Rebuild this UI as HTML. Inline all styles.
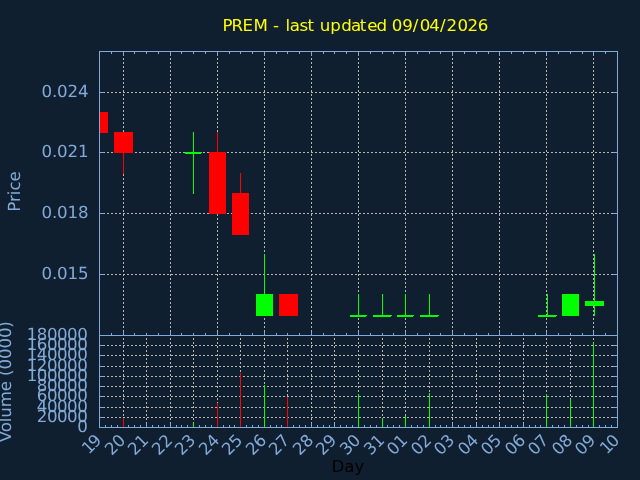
<!DOCTYPE html>
<html><head><meta charset="utf-8"><title>PREM chart</title>
<style>html,body{margin:0;padding:0;background:#101f30;width:640px;height:480px;overflow:hidden}svg{display:block}#w{will-change:transform;width:640px;height:480px}</style>
</head><body><div id="w">
<svg width="640" height="480" viewBox="0 0 640 480" shape-rendering="crispEdges">
<rect width="640" height="480" fill="#101f30"/>
<path fill="#bab7b1" d="M99 92h2v1h-2zM103 92h2v1h-2zM107 92h2v1h-2zM111 92h2v1h-2zM115 92h2v1h-2zM119 92h2v1h-2zM123 92h2v1h-2zM127 92h2v1h-2zM131 92h2v1h-2zM135 92h2v1h-2zM139 92h2v1h-2zM143 92h2v1h-2zM147 92h2v1h-2zM151 92h2v1h-2zM155 92h2v1h-2zM159 92h2v1h-2zM163 92h2v1h-2zM167 92h2v1h-2zM171 92h2v1h-2zM175 92h2v1h-2zM179 92h2v1h-2zM183 92h2v1h-2zM187 92h2v1h-2zM191 92h2v1h-2zM195 92h2v1h-2zM199 92h2v1h-2zM203 92h2v1h-2zM207 92h2v1h-2zM211 92h2v1h-2zM215 92h2v1h-2zM219 92h2v1h-2zM223 92h2v1h-2zM227 92h2v1h-2zM231 92h2v1h-2zM235 92h2v1h-2zM239 92h2v1h-2zM243 92h2v1h-2zM247 92h2v1h-2zM251 92h2v1h-2zM255 92h2v1h-2zM259 92h2v1h-2zM263 92h2v1h-2zM267 92h2v1h-2zM271 92h2v1h-2zM275 92h2v1h-2zM279 92h2v1h-2zM283 92h2v1h-2zM287 92h2v1h-2zM291 92h2v1h-2zM295 92h2v1h-2zM299 92h2v1h-2zM303 92h2v1h-2zM307 92h2v1h-2zM311 92h2v1h-2zM315 92h2v1h-2zM319 92h2v1h-2zM323 92h2v1h-2zM327 92h2v1h-2zM331 92h2v1h-2zM335 92h2v1h-2zM339 92h2v1h-2zM343 92h2v1h-2zM347 92h2v1h-2zM351 92h2v1h-2zM355 92h2v1h-2zM359 92h2v1h-2zM363 92h2v1h-2zM367 92h2v1h-2zM371 92h2v1h-2zM375 92h2v1h-2zM379 92h2v1h-2zM383 92h2v1h-2zM387 92h2v1h-2zM391 92h2v1h-2zM395 92h2v1h-2zM399 92h2v1h-2zM403 92h2v1h-2zM407 92h2v1h-2zM411 92h2v1h-2zM415 92h2v1h-2zM419 92h2v1h-2zM423 92h2v1h-2zM427 92h2v1h-2zM431 92h2v1h-2zM435 92h2v1h-2zM439 92h2v1h-2zM443 92h2v1h-2zM447 92h2v1h-2zM451 92h2v1h-2zM455 92h2v1h-2zM459 92h2v1h-2zM463 92h2v1h-2zM467 92h2v1h-2zM471 92h2v1h-2zM475 92h2v1h-2zM479 92h2v1h-2zM483 92h2v1h-2zM487 92h2v1h-2zM491 92h2v1h-2zM495 92h2v1h-2zM499 92h2v1h-2zM503 92h2v1h-2zM507 92h2v1h-2zM511 92h2v1h-2zM515 92h2v1h-2zM519 92h2v1h-2zM523 92h2v1h-2zM527 92h2v1h-2zM531 92h2v1h-2zM535 92h2v1h-2zM539 92h2v1h-2zM543 92h2v1h-2zM547 92h2v1h-2zM551 92h2v1h-2zM555 92h2v1h-2zM559 92h2v1h-2zM563 92h2v1h-2zM567 92h2v1h-2zM571 92h2v1h-2zM575 92h2v1h-2zM579 92h2v1h-2zM583 92h2v1h-2zM587 92h2v1h-2zM591 92h2v1h-2zM595 92h2v1h-2zM599 92h2v1h-2zM603 92h2v1h-2zM607 92h2v1h-2zM611 92h2v1h-2zM615 92h2v1h-2zM99 152h2v1h-2zM103 152h2v1h-2zM107 152h2v1h-2zM111 152h2v1h-2zM115 152h2v1h-2zM119 152h2v1h-2zM123 152h2v1h-2zM127 152h2v1h-2zM131 152h2v1h-2zM135 152h2v1h-2zM139 152h2v1h-2zM143 152h2v1h-2zM147 152h2v1h-2zM151 152h2v1h-2zM155 152h2v1h-2zM159 152h2v1h-2zM163 152h2v1h-2zM167 152h2v1h-2zM171 152h2v1h-2zM175 152h2v1h-2zM179 152h2v1h-2zM183 152h2v1h-2zM187 152h2v1h-2zM191 152h2v1h-2zM195 152h2v1h-2zM199 152h2v1h-2zM203 152h2v1h-2zM207 152h2v1h-2zM211 152h2v1h-2zM215 152h2v1h-2zM219 152h2v1h-2zM223 152h2v1h-2zM227 152h2v1h-2zM231 152h2v1h-2zM235 152h2v1h-2zM239 152h2v1h-2zM243 152h2v1h-2zM247 152h2v1h-2zM251 152h2v1h-2zM255 152h2v1h-2zM259 152h2v1h-2zM263 152h2v1h-2zM267 152h2v1h-2zM271 152h2v1h-2zM275 152h2v1h-2zM279 152h2v1h-2zM283 152h2v1h-2zM287 152h2v1h-2zM291 152h2v1h-2zM295 152h2v1h-2zM299 152h2v1h-2zM303 152h2v1h-2zM307 152h2v1h-2zM311 152h2v1h-2zM315 152h2v1h-2zM319 152h2v1h-2zM323 152h2v1h-2zM327 152h2v1h-2zM331 152h2v1h-2zM335 152h2v1h-2zM339 152h2v1h-2zM343 152h2v1h-2zM347 152h2v1h-2zM351 152h2v1h-2zM355 152h2v1h-2zM359 152h2v1h-2zM363 152h2v1h-2zM367 152h2v1h-2zM371 152h2v1h-2zM375 152h2v1h-2zM379 152h2v1h-2zM383 152h2v1h-2zM387 152h2v1h-2zM391 152h2v1h-2zM395 152h2v1h-2zM399 152h2v1h-2zM403 152h2v1h-2zM407 152h2v1h-2zM411 152h2v1h-2zM415 152h2v1h-2zM419 152h2v1h-2zM423 152h2v1h-2zM427 152h2v1h-2zM431 152h2v1h-2zM435 152h2v1h-2zM439 152h2v1h-2zM443 152h2v1h-2zM447 152h2v1h-2zM451 152h2v1h-2zM455 152h2v1h-2zM459 152h2v1h-2zM463 152h2v1h-2zM467 152h2v1h-2zM471 152h2v1h-2zM475 152h2v1h-2zM479 152h2v1h-2zM483 152h2v1h-2zM487 152h2v1h-2zM491 152h2v1h-2zM495 152h2v1h-2zM499 152h2v1h-2zM503 152h2v1h-2zM507 152h2v1h-2zM511 152h2v1h-2zM515 152h2v1h-2zM519 152h2v1h-2zM523 152h2v1h-2zM527 152h2v1h-2zM531 152h2v1h-2zM535 152h2v1h-2zM539 152h2v1h-2zM543 152h2v1h-2zM547 152h2v1h-2zM551 152h2v1h-2zM555 152h2v1h-2zM559 152h2v1h-2zM563 152h2v1h-2zM567 152h2v1h-2zM571 152h2v1h-2zM575 152h2v1h-2zM579 152h2v1h-2zM583 152h2v1h-2zM587 152h2v1h-2zM591 152h2v1h-2zM595 152h2v1h-2zM599 152h2v1h-2zM603 152h2v1h-2zM607 152h2v1h-2zM611 152h2v1h-2zM615 152h2v1h-2zM99 213h2v1h-2zM103 213h2v1h-2zM107 213h2v1h-2zM111 213h2v1h-2zM115 213h2v1h-2zM119 213h2v1h-2zM123 213h2v1h-2zM127 213h2v1h-2zM131 213h2v1h-2zM135 213h2v1h-2zM139 213h2v1h-2zM143 213h2v1h-2zM147 213h2v1h-2zM151 213h2v1h-2zM155 213h2v1h-2zM159 213h2v1h-2zM163 213h2v1h-2zM167 213h2v1h-2zM171 213h2v1h-2zM175 213h2v1h-2zM179 213h2v1h-2zM183 213h2v1h-2zM187 213h2v1h-2zM191 213h2v1h-2zM195 213h2v1h-2zM199 213h2v1h-2zM203 213h2v1h-2zM207 213h2v1h-2zM211 213h2v1h-2zM215 213h2v1h-2zM219 213h2v1h-2zM223 213h2v1h-2zM227 213h2v1h-2zM231 213h2v1h-2zM235 213h2v1h-2zM239 213h2v1h-2zM243 213h2v1h-2zM247 213h2v1h-2zM251 213h2v1h-2zM255 213h2v1h-2zM259 213h2v1h-2zM263 213h2v1h-2zM267 213h2v1h-2zM271 213h2v1h-2zM275 213h2v1h-2zM279 213h2v1h-2zM283 213h2v1h-2zM287 213h2v1h-2zM291 213h2v1h-2zM295 213h2v1h-2zM299 213h2v1h-2zM303 213h2v1h-2zM307 213h2v1h-2zM311 213h2v1h-2zM315 213h2v1h-2zM319 213h2v1h-2zM323 213h2v1h-2zM327 213h2v1h-2zM331 213h2v1h-2zM335 213h2v1h-2zM339 213h2v1h-2zM343 213h2v1h-2zM347 213h2v1h-2zM351 213h2v1h-2zM355 213h2v1h-2zM359 213h2v1h-2zM363 213h2v1h-2zM367 213h2v1h-2zM371 213h2v1h-2zM375 213h2v1h-2zM379 213h2v1h-2zM383 213h2v1h-2zM387 213h2v1h-2zM391 213h2v1h-2zM395 213h2v1h-2zM399 213h2v1h-2zM403 213h2v1h-2zM407 213h2v1h-2zM411 213h2v1h-2zM415 213h2v1h-2zM419 213h2v1h-2zM423 213h2v1h-2zM427 213h2v1h-2zM431 213h2v1h-2zM435 213h2v1h-2zM439 213h2v1h-2zM443 213h2v1h-2zM447 213h2v1h-2zM451 213h2v1h-2zM455 213h2v1h-2zM459 213h2v1h-2zM463 213h2v1h-2zM467 213h2v1h-2zM471 213h2v1h-2zM475 213h2v1h-2zM479 213h2v1h-2zM483 213h2v1h-2zM487 213h2v1h-2zM491 213h2v1h-2zM495 213h2v1h-2zM499 213h2v1h-2zM503 213h2v1h-2zM507 213h2v1h-2zM511 213h2v1h-2zM515 213h2v1h-2zM519 213h2v1h-2zM523 213h2v1h-2zM527 213h2v1h-2zM531 213h2v1h-2zM535 213h2v1h-2zM539 213h2v1h-2zM543 213h2v1h-2zM547 213h2v1h-2zM551 213h2v1h-2zM555 213h2v1h-2zM559 213h2v1h-2zM563 213h2v1h-2zM567 213h2v1h-2zM571 213h2v1h-2zM575 213h2v1h-2zM579 213h2v1h-2zM583 213h2v1h-2zM587 213h2v1h-2zM591 213h2v1h-2zM595 213h2v1h-2zM599 213h2v1h-2zM603 213h2v1h-2zM607 213h2v1h-2zM611 213h2v1h-2zM615 213h2v1h-2zM99 274h2v1h-2zM103 274h2v1h-2zM107 274h2v1h-2zM111 274h2v1h-2zM115 274h2v1h-2zM119 274h2v1h-2zM123 274h2v1h-2zM127 274h2v1h-2zM131 274h2v1h-2zM135 274h2v1h-2zM139 274h2v1h-2zM143 274h2v1h-2zM147 274h2v1h-2zM151 274h2v1h-2zM155 274h2v1h-2zM159 274h2v1h-2zM163 274h2v1h-2zM167 274h2v1h-2zM171 274h2v1h-2zM175 274h2v1h-2zM179 274h2v1h-2zM183 274h2v1h-2zM187 274h2v1h-2zM191 274h2v1h-2zM195 274h2v1h-2zM199 274h2v1h-2zM203 274h2v1h-2zM207 274h2v1h-2zM211 274h2v1h-2zM215 274h2v1h-2zM219 274h2v1h-2zM223 274h2v1h-2zM227 274h2v1h-2zM231 274h2v1h-2zM235 274h2v1h-2zM239 274h2v1h-2zM243 274h2v1h-2zM247 274h2v1h-2zM251 274h2v1h-2zM255 274h2v1h-2zM259 274h2v1h-2zM263 274h2v1h-2zM267 274h2v1h-2zM271 274h2v1h-2zM275 274h2v1h-2zM279 274h2v1h-2zM283 274h2v1h-2zM287 274h2v1h-2zM291 274h2v1h-2zM295 274h2v1h-2zM299 274h2v1h-2zM303 274h2v1h-2zM307 274h2v1h-2zM311 274h2v1h-2zM315 274h2v1h-2zM319 274h2v1h-2zM323 274h2v1h-2zM327 274h2v1h-2zM331 274h2v1h-2zM335 274h2v1h-2zM339 274h2v1h-2zM343 274h2v1h-2zM347 274h2v1h-2zM351 274h2v1h-2zM355 274h2v1h-2zM359 274h2v1h-2zM363 274h2v1h-2zM367 274h2v1h-2zM371 274h2v1h-2zM375 274h2v1h-2zM379 274h2v1h-2zM383 274h2v1h-2zM387 274h2v1h-2zM391 274h2v1h-2zM395 274h2v1h-2zM399 274h2v1h-2zM403 274h2v1h-2zM407 274h2v1h-2zM411 274h2v1h-2zM415 274h2v1h-2zM419 274h2v1h-2zM423 274h2v1h-2zM427 274h2v1h-2zM431 274h2v1h-2zM435 274h2v1h-2zM439 274h2v1h-2zM443 274h2v1h-2zM447 274h2v1h-2zM451 274h2v1h-2zM455 274h2v1h-2zM459 274h2v1h-2zM463 274h2v1h-2zM467 274h2v1h-2zM471 274h2v1h-2zM475 274h2v1h-2zM479 274h2v1h-2zM483 274h2v1h-2zM487 274h2v1h-2zM491 274h2v1h-2zM495 274h2v1h-2zM499 274h2v1h-2zM503 274h2v1h-2zM507 274h2v1h-2zM511 274h2v1h-2zM515 274h2v1h-2zM519 274h2v1h-2zM523 274h2v1h-2zM527 274h2v1h-2zM531 274h2v1h-2zM535 274h2v1h-2zM539 274h2v1h-2zM543 274h2v1h-2zM547 274h2v1h-2zM551 274h2v1h-2zM555 274h2v1h-2zM559 274h2v1h-2zM563 274h2v1h-2zM567 274h2v1h-2zM571 274h2v1h-2zM575 274h2v1h-2zM579 274h2v1h-2zM583 274h2v1h-2zM587 274h2v1h-2zM591 274h2v1h-2zM595 274h2v1h-2zM599 274h2v1h-2zM603 274h2v1h-2zM607 274h2v1h-2zM611 274h2v1h-2zM615 274h2v1h-2zM123 334h1v2h-1zM123 330h1v2h-1zM123 326h1v2h-1zM123 322h1v2h-1zM123 318h1v2h-1zM123 314h1v2h-1zM123 310h1v2h-1zM123 306h1v2h-1zM123 302h1v2h-1zM123 298h1v2h-1zM123 294h1v2h-1zM123 290h1v2h-1zM123 286h1v2h-1zM123 282h1v2h-1zM123 278h1v2h-1zM123 274h1v2h-1zM123 270h1v2h-1zM123 266h1v2h-1zM123 262h1v2h-1zM123 258h1v2h-1zM123 254h1v2h-1zM123 250h1v2h-1zM123 246h1v2h-1zM123 242h1v2h-1zM123 238h1v2h-1zM123 234h1v2h-1zM123 230h1v2h-1zM123 226h1v2h-1zM123 222h1v2h-1zM123 218h1v2h-1zM123 214h1v2h-1zM123 210h1v2h-1zM123 206h1v2h-1zM123 202h1v2h-1zM123 198h1v2h-1zM123 194h1v2h-1zM123 190h1v2h-1zM123 186h1v2h-1zM123 182h1v2h-1zM123 178h1v2h-1zM123 174h1v2h-1zM123 170h1v2h-1zM123 166h1v2h-1zM123 162h1v2h-1zM123 158h1v2h-1zM123 154h1v2h-1zM123 150h1v2h-1zM123 146h1v2h-1zM123 142h1v2h-1zM123 138h1v2h-1zM123 134h1v2h-1zM123 130h1v2h-1zM123 126h1v2h-1zM123 122h1v2h-1zM123 118h1v2h-1zM123 114h1v2h-1zM123 110h1v2h-1zM123 106h1v2h-1zM123 102h1v2h-1zM123 98h1v2h-1zM123 94h1v2h-1zM123 90h1v2h-1zM123 86h1v2h-1zM123 82h1v2h-1zM123 78h1v2h-1zM123 74h1v2h-1zM123 70h1v2h-1zM123 66h1v2h-1zM123 62h1v2h-1zM123 58h1v2h-1zM123 54h1v2h-1zM170 334h1v2h-1zM170 330h1v2h-1zM170 326h1v2h-1zM170 322h1v2h-1zM170 318h1v2h-1zM170 314h1v2h-1zM170 310h1v2h-1zM170 306h1v2h-1zM170 302h1v2h-1zM170 298h1v2h-1zM170 294h1v2h-1zM170 290h1v2h-1zM170 286h1v2h-1zM170 282h1v2h-1zM170 278h1v2h-1zM170 274h1v2h-1zM170 270h1v2h-1zM170 266h1v2h-1zM170 262h1v2h-1zM170 258h1v2h-1zM170 254h1v2h-1zM170 250h1v2h-1zM170 246h1v2h-1zM170 242h1v2h-1zM170 238h1v2h-1zM170 234h1v2h-1zM170 230h1v2h-1zM170 226h1v2h-1zM170 222h1v2h-1zM170 218h1v2h-1zM170 214h1v2h-1zM170 210h1v2h-1zM170 206h1v2h-1zM170 202h1v2h-1zM170 198h1v2h-1zM170 194h1v2h-1zM170 190h1v2h-1zM170 186h1v2h-1zM170 182h1v2h-1zM170 178h1v2h-1zM170 174h1v2h-1zM170 170h1v2h-1zM170 166h1v2h-1zM170 162h1v2h-1zM170 158h1v2h-1zM170 154h1v2h-1zM170 150h1v2h-1zM170 146h1v2h-1zM170 142h1v2h-1zM170 138h1v2h-1zM170 134h1v2h-1zM170 130h1v2h-1zM170 126h1v2h-1zM170 122h1v2h-1zM170 118h1v2h-1zM170 114h1v2h-1zM170 110h1v2h-1zM170 106h1v2h-1zM170 102h1v2h-1zM170 98h1v2h-1zM170 94h1v2h-1zM170 90h1v2h-1zM170 86h1v2h-1zM170 82h1v2h-1zM170 78h1v2h-1zM170 74h1v2h-1zM170 70h1v2h-1zM170 66h1v2h-1zM170 62h1v2h-1zM170 58h1v2h-1zM170 54h1v2h-1zM217 334h1v2h-1zM217 330h1v2h-1zM217 326h1v2h-1zM217 322h1v2h-1zM217 318h1v2h-1zM217 314h1v2h-1zM217 310h1v2h-1zM217 306h1v2h-1zM217 302h1v2h-1zM217 298h1v2h-1zM217 294h1v2h-1zM217 290h1v2h-1zM217 286h1v2h-1zM217 282h1v2h-1zM217 278h1v2h-1zM217 274h1v2h-1zM217 270h1v2h-1zM217 266h1v2h-1zM217 262h1v2h-1zM217 258h1v2h-1zM217 254h1v2h-1zM217 250h1v2h-1zM217 246h1v2h-1zM217 242h1v2h-1zM217 238h1v2h-1zM217 234h1v2h-1zM217 230h1v2h-1zM217 226h1v2h-1zM217 222h1v2h-1zM217 218h1v2h-1zM217 214h1v2h-1zM217 210h1v2h-1zM217 206h1v2h-1zM217 202h1v2h-1zM217 198h1v2h-1zM217 194h1v2h-1zM217 190h1v2h-1zM217 186h1v2h-1zM217 182h1v2h-1zM217 178h1v2h-1zM217 174h1v2h-1zM217 170h1v2h-1zM217 166h1v2h-1zM217 162h1v2h-1zM217 158h1v2h-1zM217 154h1v2h-1zM217 150h1v2h-1zM217 146h1v2h-1zM217 142h1v2h-1zM217 138h1v2h-1zM217 134h1v2h-1zM217 130h1v2h-1zM217 126h1v2h-1zM217 122h1v2h-1zM217 118h1v2h-1zM217 114h1v2h-1zM217 110h1v2h-1zM217 106h1v2h-1zM217 102h1v2h-1zM217 98h1v2h-1zM217 94h1v2h-1zM217 90h1v2h-1zM217 86h1v2h-1zM217 82h1v2h-1zM217 78h1v2h-1zM217 74h1v2h-1zM217 70h1v2h-1zM217 66h1v2h-1zM217 62h1v2h-1zM217 58h1v2h-1zM217 54h1v2h-1zM264 334h1v2h-1zM264 330h1v2h-1zM264 326h1v2h-1zM264 322h1v2h-1zM264 318h1v2h-1zM264 314h1v2h-1zM264 310h1v2h-1zM264 306h1v2h-1zM264 302h1v2h-1zM264 298h1v2h-1zM264 294h1v2h-1zM264 290h1v2h-1zM264 286h1v2h-1zM264 282h1v2h-1zM264 278h1v2h-1zM264 274h1v2h-1zM264 270h1v2h-1zM264 266h1v2h-1zM264 262h1v2h-1zM264 258h1v2h-1zM264 254h1v2h-1zM264 250h1v2h-1zM264 246h1v2h-1zM264 242h1v2h-1zM264 238h1v2h-1zM264 234h1v2h-1zM264 230h1v2h-1zM264 226h1v2h-1zM264 222h1v2h-1zM264 218h1v2h-1zM264 214h1v2h-1zM264 210h1v2h-1zM264 206h1v2h-1zM264 202h1v2h-1zM264 198h1v2h-1zM264 194h1v2h-1zM264 190h1v2h-1zM264 186h1v2h-1zM264 182h1v2h-1zM264 178h1v2h-1zM264 174h1v2h-1zM264 170h1v2h-1zM264 166h1v2h-1zM264 162h1v2h-1zM264 158h1v2h-1zM264 154h1v2h-1zM264 150h1v2h-1zM264 146h1v2h-1zM264 142h1v2h-1zM264 138h1v2h-1zM264 134h1v2h-1zM264 130h1v2h-1zM264 126h1v2h-1zM264 122h1v2h-1zM264 118h1v2h-1zM264 114h1v2h-1zM264 110h1v2h-1zM264 106h1v2h-1zM264 102h1v2h-1zM264 98h1v2h-1zM264 94h1v2h-1zM264 90h1v2h-1zM264 86h1v2h-1zM264 82h1v2h-1zM264 78h1v2h-1zM264 74h1v2h-1zM264 70h1v2h-1zM264 66h1v2h-1zM264 62h1v2h-1zM264 58h1v2h-1zM264 54h1v2h-1zM311 334h1v2h-1zM311 330h1v2h-1zM311 326h1v2h-1zM311 322h1v2h-1zM311 318h1v2h-1zM311 314h1v2h-1zM311 310h1v2h-1zM311 306h1v2h-1zM311 302h1v2h-1zM311 298h1v2h-1zM311 294h1v2h-1zM311 290h1v2h-1zM311 286h1v2h-1zM311 282h1v2h-1zM311 278h1v2h-1zM311 274h1v2h-1zM311 270h1v2h-1zM311 266h1v2h-1zM311 262h1v2h-1zM311 258h1v2h-1zM311 254h1v2h-1zM311 250h1v2h-1zM311 246h1v2h-1zM311 242h1v2h-1zM311 238h1v2h-1zM311 234h1v2h-1zM311 230h1v2h-1zM311 226h1v2h-1zM311 222h1v2h-1zM311 218h1v2h-1zM311 214h1v2h-1zM311 210h1v2h-1zM311 206h1v2h-1zM311 202h1v2h-1zM311 198h1v2h-1zM311 194h1v2h-1zM311 190h1v2h-1zM311 186h1v2h-1zM311 182h1v2h-1zM311 178h1v2h-1zM311 174h1v2h-1zM311 170h1v2h-1zM311 166h1v2h-1zM311 162h1v2h-1zM311 158h1v2h-1zM311 154h1v2h-1zM311 150h1v2h-1zM311 146h1v2h-1zM311 142h1v2h-1zM311 138h1v2h-1zM311 134h1v2h-1zM311 130h1v2h-1zM311 126h1v2h-1zM311 122h1v2h-1zM311 118h1v2h-1zM311 114h1v2h-1zM311 110h1v2h-1zM311 106h1v2h-1zM311 102h1v2h-1zM311 98h1v2h-1zM311 94h1v2h-1zM311 90h1v2h-1zM311 86h1v2h-1zM311 82h1v2h-1zM311 78h1v2h-1zM311 74h1v2h-1zM311 70h1v2h-1zM311 66h1v2h-1zM311 62h1v2h-1zM311 58h1v2h-1zM311 54h1v2h-1zM358 334h1v2h-1zM358 330h1v2h-1zM358 326h1v2h-1zM358 322h1v2h-1zM358 318h1v2h-1zM358 314h1v2h-1zM358 310h1v2h-1zM358 306h1v2h-1zM358 302h1v2h-1zM358 298h1v2h-1zM358 294h1v2h-1zM358 290h1v2h-1zM358 286h1v2h-1zM358 282h1v2h-1zM358 278h1v2h-1zM358 274h1v2h-1zM358 270h1v2h-1zM358 266h1v2h-1zM358 262h1v2h-1zM358 258h1v2h-1zM358 254h1v2h-1zM358 250h1v2h-1zM358 246h1v2h-1zM358 242h1v2h-1zM358 238h1v2h-1zM358 234h1v2h-1zM358 230h1v2h-1zM358 226h1v2h-1zM358 222h1v2h-1zM358 218h1v2h-1zM358 214h1v2h-1zM358 210h1v2h-1zM358 206h1v2h-1zM358 202h1v2h-1zM358 198h1v2h-1zM358 194h1v2h-1zM358 190h1v2h-1zM358 186h1v2h-1zM358 182h1v2h-1zM358 178h1v2h-1zM358 174h1v2h-1zM358 170h1v2h-1zM358 166h1v2h-1zM358 162h1v2h-1zM358 158h1v2h-1zM358 154h1v2h-1zM358 150h1v2h-1zM358 146h1v2h-1zM358 142h1v2h-1zM358 138h1v2h-1zM358 134h1v2h-1zM358 130h1v2h-1zM358 126h1v2h-1zM358 122h1v2h-1zM358 118h1v2h-1zM358 114h1v2h-1zM358 110h1v2h-1zM358 106h1v2h-1zM358 102h1v2h-1zM358 98h1v2h-1zM358 94h1v2h-1zM358 90h1v2h-1zM358 86h1v2h-1zM358 82h1v2h-1zM358 78h1v2h-1zM358 74h1v2h-1zM358 70h1v2h-1zM358 66h1v2h-1zM358 62h1v2h-1zM358 58h1v2h-1zM358 54h1v2h-1zM405 334h1v2h-1zM405 330h1v2h-1zM405 326h1v2h-1zM405 322h1v2h-1zM405 318h1v2h-1zM405 314h1v2h-1zM405 310h1v2h-1zM405 306h1v2h-1zM405 302h1v2h-1zM405 298h1v2h-1zM405 294h1v2h-1zM405 290h1v2h-1zM405 286h1v2h-1zM405 282h1v2h-1zM405 278h1v2h-1zM405 274h1v2h-1zM405 270h1v2h-1zM405 266h1v2h-1zM405 262h1v2h-1zM405 258h1v2h-1zM405 254h1v2h-1zM405 250h1v2h-1zM405 246h1v2h-1zM405 242h1v2h-1zM405 238h1v2h-1zM405 234h1v2h-1zM405 230h1v2h-1zM405 226h1v2h-1zM405 222h1v2h-1zM405 218h1v2h-1zM405 214h1v2h-1zM405 210h1v2h-1zM405 206h1v2h-1zM405 202h1v2h-1zM405 198h1v2h-1zM405 194h1v2h-1zM405 190h1v2h-1zM405 186h1v2h-1zM405 182h1v2h-1zM405 178h1v2h-1zM405 174h1v2h-1zM405 170h1v2h-1zM405 166h1v2h-1zM405 162h1v2h-1zM405 158h1v2h-1zM405 154h1v2h-1zM405 150h1v2h-1zM405 146h1v2h-1zM405 142h1v2h-1zM405 138h1v2h-1zM405 134h1v2h-1zM405 130h1v2h-1zM405 126h1v2h-1zM405 122h1v2h-1zM405 118h1v2h-1zM405 114h1v2h-1zM405 110h1v2h-1zM405 106h1v2h-1zM405 102h1v2h-1zM405 98h1v2h-1zM405 94h1v2h-1zM405 90h1v2h-1zM405 86h1v2h-1zM405 82h1v2h-1zM405 78h1v2h-1zM405 74h1v2h-1zM405 70h1v2h-1zM405 66h1v2h-1zM405 62h1v2h-1zM405 58h1v2h-1zM405 54h1v2h-1zM452 334h1v2h-1zM452 330h1v2h-1zM452 326h1v2h-1zM452 322h1v2h-1zM452 318h1v2h-1zM452 314h1v2h-1zM452 310h1v2h-1zM452 306h1v2h-1zM452 302h1v2h-1zM452 298h1v2h-1zM452 294h1v2h-1zM452 290h1v2h-1zM452 286h1v2h-1zM452 282h1v2h-1zM452 278h1v2h-1zM452 274h1v2h-1zM452 270h1v2h-1zM452 266h1v2h-1zM452 262h1v2h-1zM452 258h1v2h-1zM452 254h1v2h-1zM452 250h1v2h-1zM452 246h1v2h-1zM452 242h1v2h-1zM452 238h1v2h-1zM452 234h1v2h-1zM452 230h1v2h-1zM452 226h1v2h-1zM452 222h1v2h-1zM452 218h1v2h-1zM452 214h1v2h-1zM452 210h1v2h-1zM452 206h1v2h-1zM452 202h1v2h-1zM452 198h1v2h-1zM452 194h1v2h-1zM452 190h1v2h-1zM452 186h1v2h-1zM452 182h1v2h-1zM452 178h1v2h-1zM452 174h1v2h-1zM452 170h1v2h-1zM452 166h1v2h-1zM452 162h1v2h-1zM452 158h1v2h-1zM452 154h1v2h-1zM452 150h1v2h-1zM452 146h1v2h-1zM452 142h1v2h-1zM452 138h1v2h-1zM452 134h1v2h-1zM452 130h1v2h-1zM452 126h1v2h-1zM452 122h1v2h-1zM452 118h1v2h-1zM452 114h1v2h-1zM452 110h1v2h-1zM452 106h1v2h-1zM452 102h1v2h-1zM452 98h1v2h-1zM452 94h1v2h-1zM452 90h1v2h-1zM452 86h1v2h-1zM452 82h1v2h-1zM452 78h1v2h-1zM452 74h1v2h-1zM452 70h1v2h-1zM452 66h1v2h-1zM452 62h1v2h-1zM452 58h1v2h-1zM452 54h1v2h-1zM499 334h1v2h-1zM499 330h1v2h-1zM499 326h1v2h-1zM499 322h1v2h-1zM499 318h1v2h-1zM499 314h1v2h-1zM499 310h1v2h-1zM499 306h1v2h-1zM499 302h1v2h-1zM499 298h1v2h-1zM499 294h1v2h-1zM499 290h1v2h-1zM499 286h1v2h-1zM499 282h1v2h-1zM499 278h1v2h-1zM499 274h1v2h-1zM499 270h1v2h-1zM499 266h1v2h-1zM499 262h1v2h-1zM499 258h1v2h-1zM499 254h1v2h-1zM499 250h1v2h-1zM499 246h1v2h-1zM499 242h1v2h-1zM499 238h1v2h-1zM499 234h1v2h-1zM499 230h1v2h-1zM499 226h1v2h-1zM499 222h1v2h-1zM499 218h1v2h-1zM499 214h1v2h-1zM499 210h1v2h-1zM499 206h1v2h-1zM499 202h1v2h-1zM499 198h1v2h-1zM499 194h1v2h-1zM499 190h1v2h-1zM499 186h1v2h-1zM499 182h1v2h-1zM499 178h1v2h-1zM499 174h1v2h-1zM499 170h1v2h-1zM499 166h1v2h-1zM499 162h1v2h-1zM499 158h1v2h-1zM499 154h1v2h-1zM499 150h1v2h-1zM499 146h1v2h-1zM499 142h1v2h-1zM499 138h1v2h-1zM499 134h1v2h-1zM499 130h1v2h-1zM499 126h1v2h-1zM499 122h1v2h-1zM499 118h1v2h-1zM499 114h1v2h-1zM499 110h1v2h-1zM499 106h1v2h-1zM499 102h1v2h-1zM499 98h1v2h-1zM499 94h1v2h-1zM499 90h1v2h-1zM499 86h1v2h-1zM499 82h1v2h-1zM499 78h1v2h-1zM499 74h1v2h-1zM499 70h1v2h-1zM499 66h1v2h-1zM499 62h1v2h-1zM499 58h1v2h-1zM499 54h1v2h-1zM546 334h1v2h-1zM546 330h1v2h-1zM546 326h1v2h-1zM546 322h1v2h-1zM546 318h1v2h-1zM546 314h1v2h-1zM546 310h1v2h-1zM546 306h1v2h-1zM546 302h1v2h-1zM546 298h1v2h-1zM546 294h1v2h-1zM546 290h1v2h-1zM546 286h1v2h-1zM546 282h1v2h-1zM546 278h1v2h-1zM546 274h1v2h-1zM546 270h1v2h-1zM546 266h1v2h-1zM546 262h1v2h-1zM546 258h1v2h-1zM546 254h1v2h-1zM546 250h1v2h-1zM546 246h1v2h-1zM546 242h1v2h-1zM546 238h1v2h-1zM546 234h1v2h-1zM546 230h1v2h-1zM546 226h1v2h-1zM546 222h1v2h-1zM546 218h1v2h-1zM546 214h1v2h-1zM546 210h1v2h-1zM546 206h1v2h-1zM546 202h1v2h-1zM546 198h1v2h-1zM546 194h1v2h-1zM546 190h1v2h-1zM546 186h1v2h-1zM546 182h1v2h-1zM546 178h1v2h-1zM546 174h1v2h-1zM546 170h1v2h-1zM546 166h1v2h-1zM546 162h1v2h-1zM546 158h1v2h-1zM546 154h1v2h-1zM546 150h1v2h-1zM546 146h1v2h-1zM546 142h1v2h-1zM546 138h1v2h-1zM546 134h1v2h-1zM546 130h1v2h-1zM546 126h1v2h-1zM546 122h1v2h-1zM546 118h1v2h-1zM546 114h1v2h-1zM546 110h1v2h-1zM546 106h1v2h-1zM546 102h1v2h-1zM546 98h1v2h-1zM546 94h1v2h-1zM546 90h1v2h-1zM546 86h1v2h-1zM546 82h1v2h-1zM546 78h1v2h-1zM546 74h1v2h-1zM546 70h1v2h-1zM546 66h1v2h-1zM546 62h1v2h-1zM546 58h1v2h-1zM546 54h1v2h-1zM593 334h1v2h-1zM593 330h1v2h-1zM593 326h1v2h-1zM593 322h1v2h-1zM593 318h1v2h-1zM593 314h1v2h-1zM593 310h1v2h-1zM593 306h1v2h-1zM593 302h1v2h-1zM593 298h1v2h-1zM593 294h1v2h-1zM593 290h1v2h-1zM593 286h1v2h-1zM593 282h1v2h-1zM593 278h1v2h-1zM593 274h1v2h-1zM593 270h1v2h-1zM593 266h1v2h-1zM593 262h1v2h-1zM593 258h1v2h-1zM593 254h1v2h-1zM593 250h1v2h-1zM593 246h1v2h-1zM593 242h1v2h-1zM593 238h1v2h-1zM593 234h1v2h-1zM593 230h1v2h-1zM593 226h1v2h-1zM593 222h1v2h-1zM593 218h1v2h-1zM593 214h1v2h-1zM593 210h1v2h-1zM593 206h1v2h-1zM593 202h1v2h-1zM593 198h1v2h-1zM593 194h1v2h-1zM593 190h1v2h-1zM593 186h1v2h-1zM593 182h1v2h-1zM593 178h1v2h-1zM593 174h1v2h-1zM593 170h1v2h-1zM593 166h1v2h-1zM593 162h1v2h-1zM593 158h1v2h-1zM593 154h1v2h-1zM593 150h1v2h-1zM593 146h1v2h-1zM593 142h1v2h-1zM593 138h1v2h-1zM593 134h1v2h-1zM593 130h1v2h-1zM593 126h1v2h-1zM593 122h1v2h-1zM593 118h1v2h-1zM593 114h1v2h-1zM593 110h1v2h-1zM593 106h1v2h-1zM593 102h1v2h-1zM593 98h1v2h-1zM593 94h1v2h-1zM593 90h1v2h-1zM593 86h1v2h-1zM593 82h1v2h-1zM593 78h1v2h-1zM593 74h1v2h-1zM593 70h1v2h-1zM593 66h1v2h-1zM593 62h1v2h-1zM593 58h1v2h-1zM593 54h1v2h-1zM99 417h2v1h-2zM103 417h2v1h-2zM107 417h2v1h-2zM111 417h2v1h-2zM115 417h2v1h-2zM119 417h2v1h-2zM123 417h2v1h-2zM127 417h2v1h-2zM131 417h2v1h-2zM135 417h2v1h-2zM139 417h2v1h-2zM143 417h2v1h-2zM147 417h2v1h-2zM151 417h2v1h-2zM155 417h2v1h-2zM159 417h2v1h-2zM163 417h2v1h-2zM167 417h2v1h-2zM171 417h2v1h-2zM175 417h2v1h-2zM179 417h2v1h-2zM183 417h2v1h-2zM187 417h2v1h-2zM191 417h2v1h-2zM195 417h2v1h-2zM199 417h2v1h-2zM203 417h2v1h-2zM207 417h2v1h-2zM211 417h2v1h-2zM215 417h2v1h-2zM219 417h2v1h-2zM223 417h2v1h-2zM227 417h2v1h-2zM231 417h2v1h-2zM235 417h2v1h-2zM239 417h2v1h-2zM243 417h2v1h-2zM247 417h2v1h-2zM251 417h2v1h-2zM255 417h2v1h-2zM259 417h2v1h-2zM263 417h2v1h-2zM267 417h2v1h-2zM271 417h2v1h-2zM275 417h2v1h-2zM279 417h2v1h-2zM283 417h2v1h-2zM287 417h2v1h-2zM291 417h2v1h-2zM295 417h2v1h-2zM299 417h2v1h-2zM303 417h2v1h-2zM307 417h2v1h-2zM311 417h2v1h-2zM315 417h2v1h-2zM319 417h2v1h-2zM323 417h2v1h-2zM327 417h2v1h-2zM331 417h2v1h-2zM335 417h2v1h-2zM339 417h2v1h-2zM343 417h2v1h-2zM347 417h2v1h-2zM351 417h2v1h-2zM355 417h2v1h-2zM359 417h2v1h-2zM363 417h2v1h-2zM367 417h2v1h-2zM371 417h2v1h-2zM375 417h2v1h-2zM379 417h2v1h-2zM383 417h2v1h-2zM387 417h2v1h-2zM391 417h2v1h-2zM395 417h2v1h-2zM399 417h2v1h-2zM403 417h2v1h-2zM407 417h2v1h-2zM411 417h2v1h-2zM415 417h2v1h-2zM419 417h2v1h-2zM423 417h2v1h-2zM427 417h2v1h-2zM431 417h2v1h-2zM435 417h2v1h-2zM439 417h2v1h-2zM443 417h2v1h-2zM447 417h2v1h-2zM451 417h2v1h-2zM455 417h2v1h-2zM459 417h2v1h-2zM463 417h2v1h-2zM467 417h2v1h-2zM471 417h2v1h-2zM475 417h2v1h-2zM479 417h2v1h-2zM483 417h2v1h-2zM487 417h2v1h-2zM491 417h2v1h-2zM495 417h2v1h-2zM499 417h2v1h-2zM503 417h2v1h-2zM507 417h2v1h-2zM511 417h2v1h-2zM515 417h2v1h-2zM519 417h2v1h-2zM523 417h2v1h-2zM527 417h2v1h-2zM531 417h2v1h-2zM535 417h2v1h-2zM539 417h2v1h-2zM543 417h2v1h-2zM547 417h2v1h-2zM551 417h2v1h-2zM555 417h2v1h-2zM559 417h2v1h-2zM563 417h2v1h-2zM567 417h2v1h-2zM571 417h2v1h-2zM575 417h2v1h-2zM579 417h2v1h-2zM583 417h2v1h-2zM587 417h2v1h-2zM591 417h2v1h-2zM595 417h2v1h-2zM599 417h2v1h-2zM603 417h2v1h-2zM607 417h2v1h-2zM611 417h2v1h-2zM615 417h2v1h-2zM99 407h2v1h-2zM103 407h2v1h-2zM107 407h2v1h-2zM111 407h2v1h-2zM115 407h2v1h-2zM119 407h2v1h-2zM123 407h2v1h-2zM127 407h2v1h-2zM131 407h2v1h-2zM135 407h2v1h-2zM139 407h2v1h-2zM143 407h2v1h-2zM147 407h2v1h-2zM151 407h2v1h-2zM155 407h2v1h-2zM159 407h2v1h-2zM163 407h2v1h-2zM167 407h2v1h-2zM171 407h2v1h-2zM175 407h2v1h-2zM179 407h2v1h-2zM183 407h2v1h-2zM187 407h2v1h-2zM191 407h2v1h-2zM195 407h2v1h-2zM199 407h2v1h-2zM203 407h2v1h-2zM207 407h2v1h-2zM211 407h2v1h-2zM215 407h2v1h-2zM219 407h2v1h-2zM223 407h2v1h-2zM227 407h2v1h-2zM231 407h2v1h-2zM235 407h2v1h-2zM239 407h2v1h-2zM243 407h2v1h-2zM247 407h2v1h-2zM251 407h2v1h-2zM255 407h2v1h-2zM259 407h2v1h-2zM263 407h2v1h-2zM267 407h2v1h-2zM271 407h2v1h-2zM275 407h2v1h-2zM279 407h2v1h-2zM283 407h2v1h-2zM287 407h2v1h-2zM291 407h2v1h-2zM295 407h2v1h-2zM299 407h2v1h-2zM303 407h2v1h-2zM307 407h2v1h-2zM311 407h2v1h-2zM315 407h2v1h-2zM319 407h2v1h-2zM323 407h2v1h-2zM327 407h2v1h-2zM331 407h2v1h-2zM335 407h2v1h-2zM339 407h2v1h-2zM343 407h2v1h-2zM347 407h2v1h-2zM351 407h2v1h-2zM355 407h2v1h-2zM359 407h2v1h-2zM363 407h2v1h-2zM367 407h2v1h-2zM371 407h2v1h-2zM375 407h2v1h-2zM379 407h2v1h-2zM383 407h2v1h-2zM387 407h2v1h-2zM391 407h2v1h-2zM395 407h2v1h-2zM399 407h2v1h-2zM403 407h2v1h-2zM407 407h2v1h-2zM411 407h2v1h-2zM415 407h2v1h-2zM419 407h2v1h-2zM423 407h2v1h-2zM427 407h2v1h-2zM431 407h2v1h-2zM435 407h2v1h-2zM439 407h2v1h-2zM443 407h2v1h-2zM447 407h2v1h-2zM451 407h2v1h-2zM455 407h2v1h-2zM459 407h2v1h-2zM463 407h2v1h-2zM467 407h2v1h-2zM471 407h2v1h-2zM475 407h2v1h-2zM479 407h2v1h-2zM483 407h2v1h-2zM487 407h2v1h-2zM491 407h2v1h-2zM495 407h2v1h-2zM499 407h2v1h-2zM503 407h2v1h-2zM507 407h2v1h-2zM511 407h2v1h-2zM515 407h2v1h-2zM519 407h2v1h-2zM523 407h2v1h-2zM527 407h2v1h-2zM531 407h2v1h-2zM535 407h2v1h-2zM539 407h2v1h-2zM543 407h2v1h-2zM547 407h2v1h-2zM551 407h2v1h-2zM555 407h2v1h-2zM559 407h2v1h-2zM563 407h2v1h-2zM567 407h2v1h-2zM571 407h2v1h-2zM575 407h2v1h-2zM579 407h2v1h-2zM583 407h2v1h-2zM587 407h2v1h-2zM591 407h2v1h-2zM595 407h2v1h-2zM599 407h2v1h-2zM603 407h2v1h-2zM607 407h2v1h-2zM611 407h2v1h-2zM615 407h2v1h-2zM99 396h2v1h-2zM103 396h2v1h-2zM107 396h2v1h-2zM111 396h2v1h-2zM115 396h2v1h-2zM119 396h2v1h-2zM123 396h2v1h-2zM127 396h2v1h-2zM131 396h2v1h-2zM135 396h2v1h-2zM139 396h2v1h-2zM143 396h2v1h-2zM147 396h2v1h-2zM151 396h2v1h-2zM155 396h2v1h-2zM159 396h2v1h-2zM163 396h2v1h-2zM167 396h2v1h-2zM171 396h2v1h-2zM175 396h2v1h-2zM179 396h2v1h-2zM183 396h2v1h-2zM187 396h2v1h-2zM191 396h2v1h-2zM195 396h2v1h-2zM199 396h2v1h-2zM203 396h2v1h-2zM207 396h2v1h-2zM211 396h2v1h-2zM215 396h2v1h-2zM219 396h2v1h-2zM223 396h2v1h-2zM227 396h2v1h-2zM231 396h2v1h-2zM235 396h2v1h-2zM239 396h2v1h-2zM243 396h2v1h-2zM247 396h2v1h-2zM251 396h2v1h-2zM255 396h2v1h-2zM259 396h2v1h-2zM263 396h2v1h-2zM267 396h2v1h-2zM271 396h2v1h-2zM275 396h2v1h-2zM279 396h2v1h-2zM283 396h2v1h-2zM287 396h2v1h-2zM291 396h2v1h-2zM295 396h2v1h-2zM299 396h2v1h-2zM303 396h2v1h-2zM307 396h2v1h-2zM311 396h2v1h-2zM315 396h2v1h-2zM319 396h2v1h-2zM323 396h2v1h-2zM327 396h2v1h-2zM331 396h2v1h-2zM335 396h2v1h-2zM339 396h2v1h-2zM343 396h2v1h-2zM347 396h2v1h-2zM351 396h2v1h-2zM355 396h2v1h-2zM359 396h2v1h-2zM363 396h2v1h-2zM367 396h2v1h-2zM371 396h2v1h-2zM375 396h2v1h-2zM379 396h2v1h-2zM383 396h2v1h-2zM387 396h2v1h-2zM391 396h2v1h-2zM395 396h2v1h-2zM399 396h2v1h-2zM403 396h2v1h-2zM407 396h2v1h-2zM411 396h2v1h-2zM415 396h2v1h-2zM419 396h2v1h-2zM423 396h2v1h-2zM427 396h2v1h-2zM431 396h2v1h-2zM435 396h2v1h-2zM439 396h2v1h-2zM443 396h2v1h-2zM447 396h2v1h-2zM451 396h2v1h-2zM455 396h2v1h-2zM459 396h2v1h-2zM463 396h2v1h-2zM467 396h2v1h-2zM471 396h2v1h-2zM475 396h2v1h-2zM479 396h2v1h-2zM483 396h2v1h-2zM487 396h2v1h-2zM491 396h2v1h-2zM495 396h2v1h-2zM499 396h2v1h-2zM503 396h2v1h-2zM507 396h2v1h-2zM511 396h2v1h-2zM515 396h2v1h-2zM519 396h2v1h-2zM523 396h2v1h-2zM527 396h2v1h-2zM531 396h2v1h-2zM535 396h2v1h-2zM539 396h2v1h-2zM543 396h2v1h-2zM547 396h2v1h-2zM551 396h2v1h-2zM555 396h2v1h-2zM559 396h2v1h-2zM563 396h2v1h-2zM567 396h2v1h-2zM571 396h2v1h-2zM575 396h2v1h-2zM579 396h2v1h-2zM583 396h2v1h-2zM587 396h2v1h-2zM591 396h2v1h-2zM595 396h2v1h-2zM599 396h2v1h-2zM603 396h2v1h-2zM607 396h2v1h-2zM611 396h2v1h-2zM615 396h2v1h-2zM99 386h2v1h-2zM103 386h2v1h-2zM107 386h2v1h-2zM111 386h2v1h-2zM115 386h2v1h-2zM119 386h2v1h-2zM123 386h2v1h-2zM127 386h2v1h-2zM131 386h2v1h-2zM135 386h2v1h-2zM139 386h2v1h-2zM143 386h2v1h-2zM147 386h2v1h-2zM151 386h2v1h-2zM155 386h2v1h-2zM159 386h2v1h-2zM163 386h2v1h-2zM167 386h2v1h-2zM171 386h2v1h-2zM175 386h2v1h-2zM179 386h2v1h-2zM183 386h2v1h-2zM187 386h2v1h-2zM191 386h2v1h-2zM195 386h2v1h-2zM199 386h2v1h-2zM203 386h2v1h-2zM207 386h2v1h-2zM211 386h2v1h-2zM215 386h2v1h-2zM219 386h2v1h-2zM223 386h2v1h-2zM227 386h2v1h-2zM231 386h2v1h-2zM235 386h2v1h-2zM239 386h2v1h-2zM243 386h2v1h-2zM247 386h2v1h-2zM251 386h2v1h-2zM255 386h2v1h-2zM259 386h2v1h-2zM263 386h2v1h-2zM267 386h2v1h-2zM271 386h2v1h-2zM275 386h2v1h-2zM279 386h2v1h-2zM283 386h2v1h-2zM287 386h2v1h-2zM291 386h2v1h-2zM295 386h2v1h-2zM299 386h2v1h-2zM303 386h2v1h-2zM307 386h2v1h-2zM311 386h2v1h-2zM315 386h2v1h-2zM319 386h2v1h-2zM323 386h2v1h-2zM327 386h2v1h-2zM331 386h2v1h-2zM335 386h2v1h-2zM339 386h2v1h-2zM343 386h2v1h-2zM347 386h2v1h-2zM351 386h2v1h-2zM355 386h2v1h-2zM359 386h2v1h-2zM363 386h2v1h-2zM367 386h2v1h-2zM371 386h2v1h-2zM375 386h2v1h-2zM379 386h2v1h-2zM383 386h2v1h-2zM387 386h2v1h-2zM391 386h2v1h-2zM395 386h2v1h-2zM399 386h2v1h-2zM403 386h2v1h-2zM407 386h2v1h-2zM411 386h2v1h-2zM415 386h2v1h-2zM419 386h2v1h-2zM423 386h2v1h-2zM427 386h2v1h-2zM431 386h2v1h-2zM435 386h2v1h-2zM439 386h2v1h-2zM443 386h2v1h-2zM447 386h2v1h-2zM451 386h2v1h-2zM455 386h2v1h-2zM459 386h2v1h-2zM463 386h2v1h-2zM467 386h2v1h-2zM471 386h2v1h-2zM475 386h2v1h-2zM479 386h2v1h-2zM483 386h2v1h-2zM487 386h2v1h-2zM491 386h2v1h-2zM495 386h2v1h-2zM499 386h2v1h-2zM503 386h2v1h-2zM507 386h2v1h-2zM511 386h2v1h-2zM515 386h2v1h-2zM519 386h2v1h-2zM523 386h2v1h-2zM527 386h2v1h-2zM531 386h2v1h-2zM535 386h2v1h-2zM539 386h2v1h-2zM543 386h2v1h-2zM547 386h2v1h-2zM551 386h2v1h-2zM555 386h2v1h-2zM559 386h2v1h-2zM563 386h2v1h-2zM567 386h2v1h-2zM571 386h2v1h-2zM575 386h2v1h-2zM579 386h2v1h-2zM583 386h2v1h-2zM587 386h2v1h-2zM591 386h2v1h-2zM595 386h2v1h-2zM599 386h2v1h-2zM603 386h2v1h-2zM607 386h2v1h-2zM611 386h2v1h-2zM615 386h2v1h-2zM99 376h2v1h-2zM103 376h2v1h-2zM107 376h2v1h-2zM111 376h2v1h-2zM115 376h2v1h-2zM119 376h2v1h-2zM123 376h2v1h-2zM127 376h2v1h-2zM131 376h2v1h-2zM135 376h2v1h-2zM139 376h2v1h-2zM143 376h2v1h-2zM147 376h2v1h-2zM151 376h2v1h-2zM155 376h2v1h-2zM159 376h2v1h-2zM163 376h2v1h-2zM167 376h2v1h-2zM171 376h2v1h-2zM175 376h2v1h-2zM179 376h2v1h-2zM183 376h2v1h-2zM187 376h2v1h-2zM191 376h2v1h-2zM195 376h2v1h-2zM199 376h2v1h-2zM203 376h2v1h-2zM207 376h2v1h-2zM211 376h2v1h-2zM215 376h2v1h-2zM219 376h2v1h-2zM223 376h2v1h-2zM227 376h2v1h-2zM231 376h2v1h-2zM235 376h2v1h-2zM239 376h2v1h-2zM243 376h2v1h-2zM247 376h2v1h-2zM251 376h2v1h-2zM255 376h2v1h-2zM259 376h2v1h-2zM263 376h2v1h-2zM267 376h2v1h-2zM271 376h2v1h-2zM275 376h2v1h-2zM279 376h2v1h-2zM283 376h2v1h-2zM287 376h2v1h-2zM291 376h2v1h-2zM295 376h2v1h-2zM299 376h2v1h-2zM303 376h2v1h-2zM307 376h2v1h-2zM311 376h2v1h-2zM315 376h2v1h-2zM319 376h2v1h-2zM323 376h2v1h-2zM327 376h2v1h-2zM331 376h2v1h-2zM335 376h2v1h-2zM339 376h2v1h-2zM343 376h2v1h-2zM347 376h2v1h-2zM351 376h2v1h-2zM355 376h2v1h-2zM359 376h2v1h-2zM363 376h2v1h-2zM367 376h2v1h-2zM371 376h2v1h-2zM375 376h2v1h-2zM379 376h2v1h-2zM383 376h2v1h-2zM387 376h2v1h-2zM391 376h2v1h-2zM395 376h2v1h-2zM399 376h2v1h-2zM403 376h2v1h-2zM407 376h2v1h-2zM411 376h2v1h-2zM415 376h2v1h-2zM419 376h2v1h-2zM423 376h2v1h-2zM427 376h2v1h-2zM431 376h2v1h-2zM435 376h2v1h-2zM439 376h2v1h-2zM443 376h2v1h-2zM447 376h2v1h-2zM451 376h2v1h-2zM455 376h2v1h-2zM459 376h2v1h-2zM463 376h2v1h-2zM467 376h2v1h-2zM471 376h2v1h-2zM475 376h2v1h-2zM479 376h2v1h-2zM483 376h2v1h-2zM487 376h2v1h-2zM491 376h2v1h-2zM495 376h2v1h-2zM499 376h2v1h-2zM503 376h2v1h-2zM507 376h2v1h-2zM511 376h2v1h-2zM515 376h2v1h-2zM519 376h2v1h-2zM523 376h2v1h-2zM527 376h2v1h-2zM531 376h2v1h-2zM535 376h2v1h-2zM539 376h2v1h-2zM543 376h2v1h-2zM547 376h2v1h-2zM551 376h2v1h-2zM555 376h2v1h-2zM559 376h2v1h-2zM563 376h2v1h-2zM567 376h2v1h-2zM571 376h2v1h-2zM575 376h2v1h-2zM579 376h2v1h-2zM583 376h2v1h-2zM587 376h2v1h-2zM591 376h2v1h-2zM595 376h2v1h-2zM599 376h2v1h-2zM603 376h2v1h-2zM607 376h2v1h-2zM611 376h2v1h-2zM615 376h2v1h-2zM99 366h2v1h-2zM103 366h2v1h-2zM107 366h2v1h-2zM111 366h2v1h-2zM115 366h2v1h-2zM119 366h2v1h-2zM123 366h2v1h-2zM127 366h2v1h-2zM131 366h2v1h-2zM135 366h2v1h-2zM139 366h2v1h-2zM143 366h2v1h-2zM147 366h2v1h-2zM151 366h2v1h-2zM155 366h2v1h-2zM159 366h2v1h-2zM163 366h2v1h-2zM167 366h2v1h-2zM171 366h2v1h-2zM175 366h2v1h-2zM179 366h2v1h-2zM183 366h2v1h-2zM187 366h2v1h-2zM191 366h2v1h-2zM195 366h2v1h-2zM199 366h2v1h-2zM203 366h2v1h-2zM207 366h2v1h-2zM211 366h2v1h-2zM215 366h2v1h-2zM219 366h2v1h-2zM223 366h2v1h-2zM227 366h2v1h-2zM231 366h2v1h-2zM235 366h2v1h-2zM239 366h2v1h-2zM243 366h2v1h-2zM247 366h2v1h-2zM251 366h2v1h-2zM255 366h2v1h-2zM259 366h2v1h-2zM263 366h2v1h-2zM267 366h2v1h-2zM271 366h2v1h-2zM275 366h2v1h-2zM279 366h2v1h-2zM283 366h2v1h-2zM287 366h2v1h-2zM291 366h2v1h-2zM295 366h2v1h-2zM299 366h2v1h-2zM303 366h2v1h-2zM307 366h2v1h-2zM311 366h2v1h-2zM315 366h2v1h-2zM319 366h2v1h-2zM323 366h2v1h-2zM327 366h2v1h-2zM331 366h2v1h-2zM335 366h2v1h-2zM339 366h2v1h-2zM343 366h2v1h-2zM347 366h2v1h-2zM351 366h2v1h-2zM355 366h2v1h-2zM359 366h2v1h-2zM363 366h2v1h-2zM367 366h2v1h-2zM371 366h2v1h-2zM375 366h2v1h-2zM379 366h2v1h-2zM383 366h2v1h-2zM387 366h2v1h-2zM391 366h2v1h-2zM395 366h2v1h-2zM399 366h2v1h-2zM403 366h2v1h-2zM407 366h2v1h-2zM411 366h2v1h-2zM415 366h2v1h-2zM419 366h2v1h-2zM423 366h2v1h-2zM427 366h2v1h-2zM431 366h2v1h-2zM435 366h2v1h-2zM439 366h2v1h-2zM443 366h2v1h-2zM447 366h2v1h-2zM451 366h2v1h-2zM455 366h2v1h-2zM459 366h2v1h-2zM463 366h2v1h-2zM467 366h2v1h-2zM471 366h2v1h-2zM475 366h2v1h-2zM479 366h2v1h-2zM483 366h2v1h-2zM487 366h2v1h-2zM491 366h2v1h-2zM495 366h2v1h-2zM499 366h2v1h-2zM503 366h2v1h-2zM507 366h2v1h-2zM511 366h2v1h-2zM515 366h2v1h-2zM519 366h2v1h-2zM523 366h2v1h-2zM527 366h2v1h-2zM531 366h2v1h-2zM535 366h2v1h-2zM539 366h2v1h-2zM543 366h2v1h-2zM547 366h2v1h-2zM551 366h2v1h-2zM555 366h2v1h-2zM559 366h2v1h-2zM563 366h2v1h-2zM567 366h2v1h-2zM571 366h2v1h-2zM575 366h2v1h-2zM579 366h2v1h-2zM583 366h2v1h-2zM587 366h2v1h-2zM591 366h2v1h-2zM595 366h2v1h-2zM599 366h2v1h-2zM603 366h2v1h-2zM607 366h2v1h-2zM611 366h2v1h-2zM615 366h2v1h-2zM99 355h2v1h-2zM103 355h2v1h-2zM107 355h2v1h-2zM111 355h2v1h-2zM115 355h2v1h-2zM119 355h2v1h-2zM123 355h2v1h-2zM127 355h2v1h-2zM131 355h2v1h-2zM135 355h2v1h-2zM139 355h2v1h-2zM143 355h2v1h-2zM147 355h2v1h-2zM151 355h2v1h-2zM155 355h2v1h-2zM159 355h2v1h-2zM163 355h2v1h-2zM167 355h2v1h-2zM171 355h2v1h-2zM175 355h2v1h-2zM179 355h2v1h-2zM183 355h2v1h-2zM187 355h2v1h-2zM191 355h2v1h-2zM195 355h2v1h-2zM199 355h2v1h-2zM203 355h2v1h-2zM207 355h2v1h-2zM211 355h2v1h-2zM215 355h2v1h-2zM219 355h2v1h-2zM223 355h2v1h-2zM227 355h2v1h-2zM231 355h2v1h-2zM235 355h2v1h-2zM239 355h2v1h-2zM243 355h2v1h-2zM247 355h2v1h-2zM251 355h2v1h-2zM255 355h2v1h-2zM259 355h2v1h-2zM263 355h2v1h-2zM267 355h2v1h-2zM271 355h2v1h-2zM275 355h2v1h-2zM279 355h2v1h-2zM283 355h2v1h-2zM287 355h2v1h-2zM291 355h2v1h-2zM295 355h2v1h-2zM299 355h2v1h-2zM303 355h2v1h-2zM307 355h2v1h-2zM311 355h2v1h-2zM315 355h2v1h-2zM319 355h2v1h-2zM323 355h2v1h-2zM327 355h2v1h-2zM331 355h2v1h-2zM335 355h2v1h-2zM339 355h2v1h-2zM343 355h2v1h-2zM347 355h2v1h-2zM351 355h2v1h-2zM355 355h2v1h-2zM359 355h2v1h-2zM363 355h2v1h-2zM367 355h2v1h-2zM371 355h2v1h-2zM375 355h2v1h-2zM379 355h2v1h-2zM383 355h2v1h-2zM387 355h2v1h-2zM391 355h2v1h-2zM395 355h2v1h-2zM399 355h2v1h-2zM403 355h2v1h-2zM407 355h2v1h-2zM411 355h2v1h-2zM415 355h2v1h-2zM419 355h2v1h-2zM423 355h2v1h-2zM427 355h2v1h-2zM431 355h2v1h-2zM435 355h2v1h-2zM439 355h2v1h-2zM443 355h2v1h-2zM447 355h2v1h-2zM451 355h2v1h-2zM455 355h2v1h-2zM459 355h2v1h-2zM463 355h2v1h-2zM467 355h2v1h-2zM471 355h2v1h-2zM475 355h2v1h-2zM479 355h2v1h-2zM483 355h2v1h-2zM487 355h2v1h-2zM491 355h2v1h-2zM495 355h2v1h-2zM499 355h2v1h-2zM503 355h2v1h-2zM507 355h2v1h-2zM511 355h2v1h-2zM515 355h2v1h-2zM519 355h2v1h-2zM523 355h2v1h-2zM527 355h2v1h-2zM531 355h2v1h-2zM535 355h2v1h-2zM539 355h2v1h-2zM543 355h2v1h-2zM547 355h2v1h-2zM551 355h2v1h-2zM555 355h2v1h-2zM559 355h2v1h-2zM563 355h2v1h-2zM567 355h2v1h-2zM571 355h2v1h-2zM575 355h2v1h-2zM579 355h2v1h-2zM583 355h2v1h-2zM587 355h2v1h-2zM591 355h2v1h-2zM595 355h2v1h-2zM599 355h2v1h-2zM603 355h2v1h-2zM607 355h2v1h-2zM611 355h2v1h-2zM615 355h2v1h-2zM99 345h2v1h-2zM103 345h2v1h-2zM107 345h2v1h-2zM111 345h2v1h-2zM115 345h2v1h-2zM119 345h2v1h-2zM123 345h2v1h-2zM127 345h2v1h-2zM131 345h2v1h-2zM135 345h2v1h-2zM139 345h2v1h-2zM143 345h2v1h-2zM147 345h2v1h-2zM151 345h2v1h-2zM155 345h2v1h-2zM159 345h2v1h-2zM163 345h2v1h-2zM167 345h2v1h-2zM171 345h2v1h-2zM175 345h2v1h-2zM179 345h2v1h-2zM183 345h2v1h-2zM187 345h2v1h-2zM191 345h2v1h-2zM195 345h2v1h-2zM199 345h2v1h-2zM203 345h2v1h-2zM207 345h2v1h-2zM211 345h2v1h-2zM215 345h2v1h-2zM219 345h2v1h-2zM223 345h2v1h-2zM227 345h2v1h-2zM231 345h2v1h-2zM235 345h2v1h-2zM239 345h2v1h-2zM243 345h2v1h-2zM247 345h2v1h-2zM251 345h2v1h-2zM255 345h2v1h-2zM259 345h2v1h-2zM263 345h2v1h-2zM267 345h2v1h-2zM271 345h2v1h-2zM275 345h2v1h-2zM279 345h2v1h-2zM283 345h2v1h-2zM287 345h2v1h-2zM291 345h2v1h-2zM295 345h2v1h-2zM299 345h2v1h-2zM303 345h2v1h-2zM307 345h2v1h-2zM311 345h2v1h-2zM315 345h2v1h-2zM319 345h2v1h-2zM323 345h2v1h-2zM327 345h2v1h-2zM331 345h2v1h-2zM335 345h2v1h-2zM339 345h2v1h-2zM343 345h2v1h-2zM347 345h2v1h-2zM351 345h2v1h-2zM355 345h2v1h-2zM359 345h2v1h-2zM363 345h2v1h-2zM367 345h2v1h-2zM371 345h2v1h-2zM375 345h2v1h-2zM379 345h2v1h-2zM383 345h2v1h-2zM387 345h2v1h-2zM391 345h2v1h-2zM395 345h2v1h-2zM399 345h2v1h-2zM403 345h2v1h-2zM407 345h2v1h-2zM411 345h2v1h-2zM415 345h2v1h-2zM419 345h2v1h-2zM423 345h2v1h-2zM427 345h2v1h-2zM431 345h2v1h-2zM435 345h2v1h-2zM439 345h2v1h-2zM443 345h2v1h-2zM447 345h2v1h-2zM451 345h2v1h-2zM455 345h2v1h-2zM459 345h2v1h-2zM463 345h2v1h-2zM467 345h2v1h-2zM471 345h2v1h-2zM475 345h2v1h-2zM479 345h2v1h-2zM483 345h2v1h-2zM487 345h2v1h-2zM491 345h2v1h-2zM495 345h2v1h-2zM499 345h2v1h-2zM503 345h2v1h-2zM507 345h2v1h-2zM511 345h2v1h-2zM515 345h2v1h-2zM519 345h2v1h-2zM523 345h2v1h-2zM527 345h2v1h-2zM531 345h2v1h-2zM535 345h2v1h-2zM539 345h2v1h-2zM543 345h2v1h-2zM547 345h2v1h-2zM551 345h2v1h-2zM555 345h2v1h-2zM559 345h2v1h-2zM563 345h2v1h-2zM567 345h2v1h-2zM571 345h2v1h-2zM575 345h2v1h-2zM579 345h2v1h-2zM583 345h2v1h-2zM587 345h2v1h-2zM591 345h2v1h-2zM595 345h2v1h-2zM599 345h2v1h-2zM603 345h2v1h-2zM607 345h2v1h-2zM611 345h2v1h-2zM615 345h2v1h-2zM123 426h1v2h-1zM123 422h1v2h-1zM123 418h1v2h-1zM123 414h1v2h-1zM123 410h1v2h-1zM123 406h1v2h-1zM123 402h1v2h-1zM123 398h1v2h-1zM123 394h1v2h-1zM123 390h1v2h-1zM123 386h1v2h-1zM123 382h1v2h-1zM123 378h1v2h-1zM123 374h1v2h-1zM123 370h1v2h-1zM123 366h1v2h-1zM123 362h1v2h-1zM123 358h1v2h-1zM123 354h1v2h-1zM123 350h1v2h-1zM123 346h1v2h-1zM123 342h1v2h-1zM123 338h1v2h-1zM146 426h1v2h-1zM146 422h1v2h-1zM146 418h1v2h-1zM146 414h1v2h-1zM146 410h1v2h-1zM146 406h1v2h-1zM146 402h1v2h-1zM146 398h1v2h-1zM146 394h1v2h-1zM146 390h1v2h-1zM146 386h1v2h-1zM146 382h1v2h-1zM146 378h1v2h-1zM146 374h1v2h-1zM146 370h1v2h-1zM146 366h1v2h-1zM146 362h1v2h-1zM146 358h1v2h-1zM146 354h1v2h-1zM146 350h1v2h-1zM146 346h1v2h-1zM146 342h1v2h-1zM146 338h1v2h-1zM170 426h1v2h-1zM170 422h1v2h-1zM170 418h1v2h-1zM170 414h1v2h-1zM170 410h1v2h-1zM170 406h1v2h-1zM170 402h1v2h-1zM170 398h1v2h-1zM170 394h1v2h-1zM170 390h1v2h-1zM170 386h1v2h-1zM170 382h1v2h-1zM170 378h1v2h-1zM170 374h1v2h-1zM170 370h1v2h-1zM170 366h1v2h-1zM170 362h1v2h-1zM170 358h1v2h-1zM170 354h1v2h-1zM170 350h1v2h-1zM170 346h1v2h-1zM170 342h1v2h-1zM170 338h1v2h-1zM193 426h1v2h-1zM193 422h1v2h-1zM193 418h1v2h-1zM193 414h1v2h-1zM193 410h1v2h-1zM193 406h1v2h-1zM193 402h1v2h-1zM193 398h1v2h-1zM193 394h1v2h-1zM193 390h1v2h-1zM193 386h1v2h-1zM193 382h1v2h-1zM193 378h1v2h-1zM193 374h1v2h-1zM193 370h1v2h-1zM193 366h1v2h-1zM193 362h1v2h-1zM193 358h1v2h-1zM193 354h1v2h-1zM193 350h1v2h-1zM193 346h1v2h-1zM193 342h1v2h-1zM193 338h1v2h-1zM217 426h1v2h-1zM217 422h1v2h-1zM217 418h1v2h-1zM217 414h1v2h-1zM217 410h1v2h-1zM217 406h1v2h-1zM217 402h1v2h-1zM217 398h1v2h-1zM217 394h1v2h-1zM217 390h1v2h-1zM217 386h1v2h-1zM217 382h1v2h-1zM217 378h1v2h-1zM217 374h1v2h-1zM217 370h1v2h-1zM217 366h1v2h-1zM217 362h1v2h-1zM217 358h1v2h-1zM217 354h1v2h-1zM217 350h1v2h-1zM217 346h1v2h-1zM217 342h1v2h-1zM217 338h1v2h-1zM240 426h1v2h-1zM240 422h1v2h-1zM240 418h1v2h-1zM240 414h1v2h-1zM240 410h1v2h-1zM240 406h1v2h-1zM240 402h1v2h-1zM240 398h1v2h-1zM240 394h1v2h-1zM240 390h1v2h-1zM240 386h1v2h-1zM240 382h1v2h-1zM240 378h1v2h-1zM240 374h1v2h-1zM240 370h1v2h-1zM240 366h1v2h-1zM240 362h1v2h-1zM240 358h1v2h-1zM240 354h1v2h-1zM240 350h1v2h-1zM240 346h1v2h-1zM240 342h1v2h-1zM240 338h1v2h-1zM264 426h1v2h-1zM264 422h1v2h-1zM264 418h1v2h-1zM264 414h1v2h-1zM264 410h1v2h-1zM264 406h1v2h-1zM264 402h1v2h-1zM264 398h1v2h-1zM264 394h1v2h-1zM264 390h1v2h-1zM264 386h1v2h-1zM264 382h1v2h-1zM264 378h1v2h-1zM264 374h1v2h-1zM264 370h1v2h-1zM264 366h1v2h-1zM264 362h1v2h-1zM264 358h1v2h-1zM264 354h1v2h-1zM264 350h1v2h-1zM264 346h1v2h-1zM264 342h1v2h-1zM264 338h1v2h-1zM287 426h1v2h-1zM287 422h1v2h-1zM287 418h1v2h-1zM287 414h1v2h-1zM287 410h1v2h-1zM287 406h1v2h-1zM287 402h1v2h-1zM287 398h1v2h-1zM287 394h1v2h-1zM287 390h1v2h-1zM287 386h1v2h-1zM287 382h1v2h-1zM287 378h1v2h-1zM287 374h1v2h-1zM287 370h1v2h-1zM287 366h1v2h-1zM287 362h1v2h-1zM287 358h1v2h-1zM287 354h1v2h-1zM287 350h1v2h-1zM287 346h1v2h-1zM287 342h1v2h-1zM287 338h1v2h-1zM311 426h1v2h-1zM311 422h1v2h-1zM311 418h1v2h-1zM311 414h1v2h-1zM311 410h1v2h-1zM311 406h1v2h-1zM311 402h1v2h-1zM311 398h1v2h-1zM311 394h1v2h-1zM311 390h1v2h-1zM311 386h1v2h-1zM311 382h1v2h-1zM311 378h1v2h-1zM311 374h1v2h-1zM311 370h1v2h-1zM311 366h1v2h-1zM311 362h1v2h-1zM311 358h1v2h-1zM311 354h1v2h-1zM311 350h1v2h-1zM311 346h1v2h-1zM311 342h1v2h-1zM311 338h1v2h-1zM334 426h1v2h-1zM334 422h1v2h-1zM334 418h1v2h-1zM334 414h1v2h-1zM334 410h1v2h-1zM334 406h1v2h-1zM334 402h1v2h-1zM334 398h1v2h-1zM334 394h1v2h-1zM334 390h1v2h-1zM334 386h1v2h-1zM334 382h1v2h-1zM334 378h1v2h-1zM334 374h1v2h-1zM334 370h1v2h-1zM334 366h1v2h-1zM334 362h1v2h-1zM334 358h1v2h-1zM334 354h1v2h-1zM334 350h1v2h-1zM334 346h1v2h-1zM334 342h1v2h-1zM334 338h1v2h-1zM358 426h1v2h-1zM358 422h1v2h-1zM358 418h1v2h-1zM358 414h1v2h-1zM358 410h1v2h-1zM358 406h1v2h-1zM358 402h1v2h-1zM358 398h1v2h-1zM358 394h1v2h-1zM358 390h1v2h-1zM358 386h1v2h-1zM358 382h1v2h-1zM358 378h1v2h-1zM358 374h1v2h-1zM358 370h1v2h-1zM358 366h1v2h-1zM358 362h1v2h-1zM358 358h1v2h-1zM358 354h1v2h-1zM358 350h1v2h-1zM358 346h1v2h-1zM358 342h1v2h-1zM358 338h1v2h-1zM382 426h1v2h-1zM382 422h1v2h-1zM382 418h1v2h-1zM382 414h1v2h-1zM382 410h1v2h-1zM382 406h1v2h-1zM382 402h1v2h-1zM382 398h1v2h-1zM382 394h1v2h-1zM382 390h1v2h-1zM382 386h1v2h-1zM382 382h1v2h-1zM382 378h1v2h-1zM382 374h1v2h-1zM382 370h1v2h-1zM382 366h1v2h-1zM382 362h1v2h-1zM382 358h1v2h-1zM382 354h1v2h-1zM382 350h1v2h-1zM382 346h1v2h-1zM382 342h1v2h-1zM382 338h1v2h-1zM405 426h1v2h-1zM405 422h1v2h-1zM405 418h1v2h-1zM405 414h1v2h-1zM405 410h1v2h-1zM405 406h1v2h-1zM405 402h1v2h-1zM405 398h1v2h-1zM405 394h1v2h-1zM405 390h1v2h-1zM405 386h1v2h-1zM405 382h1v2h-1zM405 378h1v2h-1zM405 374h1v2h-1zM405 370h1v2h-1zM405 366h1v2h-1zM405 362h1v2h-1zM405 358h1v2h-1zM405 354h1v2h-1zM405 350h1v2h-1zM405 346h1v2h-1zM405 342h1v2h-1zM405 338h1v2h-1zM429 426h1v2h-1zM429 422h1v2h-1zM429 418h1v2h-1zM429 414h1v2h-1zM429 410h1v2h-1zM429 406h1v2h-1zM429 402h1v2h-1zM429 398h1v2h-1zM429 394h1v2h-1zM429 390h1v2h-1zM429 386h1v2h-1zM429 382h1v2h-1zM429 378h1v2h-1zM429 374h1v2h-1zM429 370h1v2h-1zM429 366h1v2h-1zM429 362h1v2h-1zM429 358h1v2h-1zM429 354h1v2h-1zM429 350h1v2h-1zM429 346h1v2h-1zM429 342h1v2h-1zM429 338h1v2h-1zM452 426h1v2h-1zM452 422h1v2h-1zM452 418h1v2h-1zM452 414h1v2h-1zM452 410h1v2h-1zM452 406h1v2h-1zM452 402h1v2h-1zM452 398h1v2h-1zM452 394h1v2h-1zM452 390h1v2h-1zM452 386h1v2h-1zM452 382h1v2h-1zM452 378h1v2h-1zM452 374h1v2h-1zM452 370h1v2h-1zM452 366h1v2h-1zM452 362h1v2h-1zM452 358h1v2h-1zM452 354h1v2h-1zM452 350h1v2h-1zM452 346h1v2h-1zM452 342h1v2h-1zM452 338h1v2h-1zM476 426h1v2h-1zM476 422h1v2h-1zM476 418h1v2h-1zM476 414h1v2h-1zM476 410h1v2h-1zM476 406h1v2h-1zM476 402h1v2h-1zM476 398h1v2h-1zM476 394h1v2h-1zM476 390h1v2h-1zM476 386h1v2h-1zM476 382h1v2h-1zM476 378h1v2h-1zM476 374h1v2h-1zM476 370h1v2h-1zM476 366h1v2h-1zM476 362h1v2h-1zM476 358h1v2h-1zM476 354h1v2h-1zM476 350h1v2h-1zM476 346h1v2h-1zM476 342h1v2h-1zM476 338h1v2h-1zM499 426h1v2h-1zM499 422h1v2h-1zM499 418h1v2h-1zM499 414h1v2h-1zM499 410h1v2h-1zM499 406h1v2h-1zM499 402h1v2h-1zM499 398h1v2h-1zM499 394h1v2h-1zM499 390h1v2h-1zM499 386h1v2h-1zM499 382h1v2h-1zM499 378h1v2h-1zM499 374h1v2h-1zM499 370h1v2h-1zM499 366h1v2h-1zM499 362h1v2h-1zM499 358h1v2h-1zM499 354h1v2h-1zM499 350h1v2h-1zM499 346h1v2h-1zM499 342h1v2h-1zM499 338h1v2h-1zM523 426h1v2h-1zM523 422h1v2h-1zM523 418h1v2h-1zM523 414h1v2h-1zM523 410h1v2h-1zM523 406h1v2h-1zM523 402h1v2h-1zM523 398h1v2h-1zM523 394h1v2h-1zM523 390h1v2h-1zM523 386h1v2h-1zM523 382h1v2h-1zM523 378h1v2h-1zM523 374h1v2h-1zM523 370h1v2h-1zM523 366h1v2h-1zM523 362h1v2h-1zM523 358h1v2h-1zM523 354h1v2h-1zM523 350h1v2h-1zM523 346h1v2h-1zM523 342h1v2h-1zM523 338h1v2h-1zM546 426h1v2h-1zM546 422h1v2h-1zM546 418h1v2h-1zM546 414h1v2h-1zM546 410h1v2h-1zM546 406h1v2h-1zM546 402h1v2h-1zM546 398h1v2h-1zM546 394h1v2h-1zM546 390h1v2h-1zM546 386h1v2h-1zM546 382h1v2h-1zM546 378h1v2h-1zM546 374h1v2h-1zM546 370h1v2h-1zM546 366h1v2h-1zM546 362h1v2h-1zM546 358h1v2h-1zM546 354h1v2h-1zM546 350h1v2h-1zM546 346h1v2h-1zM546 342h1v2h-1zM546 338h1v2h-1zM570 426h1v2h-1zM570 422h1v2h-1zM570 418h1v2h-1zM570 414h1v2h-1zM570 410h1v2h-1zM570 406h1v2h-1zM570 402h1v2h-1zM570 398h1v2h-1zM570 394h1v2h-1zM570 390h1v2h-1zM570 386h1v2h-1zM570 382h1v2h-1zM570 378h1v2h-1zM570 374h1v2h-1zM570 370h1v2h-1zM570 366h1v2h-1zM570 362h1v2h-1zM570 358h1v2h-1zM570 354h1v2h-1zM570 350h1v2h-1zM570 346h1v2h-1zM570 342h1v2h-1zM570 338h1v2h-1zM593 426h1v2h-1zM593 422h1v2h-1zM593 418h1v2h-1zM593 414h1v2h-1zM593 410h1v2h-1zM593 406h1v2h-1zM593 402h1v2h-1zM593 398h1v2h-1zM593 394h1v2h-1zM593 390h1v2h-1zM593 386h1v2h-1zM593 382h1v2h-1zM593 378h1v2h-1zM593 374h1v2h-1zM593 370h1v2h-1zM593 366h1v2h-1zM593 362h1v2h-1zM593 358h1v2h-1zM593 354h1v2h-1zM593 350h1v2h-1zM593 346h1v2h-1zM593 342h1v2h-1zM593 338h1v2h-1z"/><path fill="#82aad8" d="M100 92h4v1h-4zM613 92h4v1h-4zM100 152h4v1h-4zM613 152h4v1h-4zM100 213h4v1h-4zM613 213h4v1h-4zM100 274h4v1h-4zM613 274h4v1h-4zM100 427h4v1h-4zM613 427h4v1h-4zM100 417h4v1h-4zM613 417h4v1h-4zM100 407h4v1h-4zM613 407h4v1h-4zM100 396h4v1h-4zM613 396h4v1h-4zM100 386h4v1h-4zM613 386h4v1h-4zM100 376h4v1h-4zM613 376h4v1h-4zM100 366h4v1h-4zM613 366h4v1h-4zM100 355h4v1h-4zM613 355h4v1h-4zM100 345h4v1h-4zM613 345h4v1h-4zM100 335h4v1h-4zM613 335h4v1h-4zM111 52h1v2h-1zM111 333h1v2h-1zM123 52h1v4h-1zM123 331h1v4h-1zM134 52h1v2h-1zM134 333h1v2h-1zM146 52h1v2h-1zM146 333h1v2h-1zM158 52h1v2h-1zM158 333h1v2h-1zM170 52h1v4h-1zM170 331h1v4h-1zM181 52h1v2h-1zM181 333h1v2h-1zM193 52h1v2h-1zM193 333h1v2h-1zM205 52h1v2h-1zM205 333h1v2h-1zM217 52h1v4h-1zM217 331h1v4h-1zM229 52h1v2h-1zM229 333h1v2h-1zM240 52h1v2h-1zM240 333h1v2h-1zM252 52h1v2h-1zM252 333h1v2h-1zM264 52h1v4h-1zM264 331h1v4h-1zM276 52h1v2h-1zM276 333h1v2h-1zM287 52h1v2h-1zM287 333h1v2h-1zM299 52h1v2h-1zM299 333h1v2h-1zM311 52h1v4h-1zM311 331h1v4h-1zM323 52h1v2h-1zM323 333h1v2h-1zM334 52h1v2h-1zM334 333h1v2h-1zM346 52h1v2h-1zM346 333h1v2h-1zM358 52h1v4h-1zM358 331h1v4h-1zM370 52h1v2h-1zM370 333h1v2h-1zM382 52h1v2h-1zM382 333h1v2h-1zM393 52h1v2h-1zM393 333h1v2h-1zM405 52h1v4h-1zM405 331h1v4h-1zM417 52h1v2h-1zM417 333h1v2h-1zM429 52h1v2h-1zM429 333h1v2h-1zM440 52h1v2h-1zM440 333h1v2h-1zM452 52h1v4h-1zM452 331h1v4h-1zM464 52h1v2h-1zM464 333h1v2h-1zM476 52h1v2h-1zM476 333h1v2h-1zM488 52h1v2h-1zM488 333h1v2h-1zM499 52h1v4h-1zM499 331h1v4h-1zM511 52h1v2h-1zM511 333h1v2h-1zM523 52h1v2h-1zM523 333h1v2h-1zM535 52h1v2h-1zM535 333h1v2h-1zM546 52h1v4h-1zM546 331h1v4h-1zM558 52h1v2h-1zM558 333h1v2h-1zM570 52h1v2h-1zM570 333h1v2h-1zM582 52h1v2h-1zM582 333h1v2h-1zM593 52h1v4h-1zM593 331h1v4h-1zM605 52h1v2h-1zM605 333h1v2h-1zM105 425h1v2h-1zM111 425h1v2h-1zM117 425h1v2h-1zM123 423h1v4h-1zM128 425h1v2h-1zM134 425h1v2h-1zM140 425h1v2h-1zM146 423h1v4h-1zM152 425h1v2h-1zM158 425h1v2h-1zM164 425h1v2h-1zM170 423h1v4h-1zM176 425h1v2h-1zM181 425h1v2h-1zM187 425h1v2h-1zM193 423h1v4h-1zM199 425h1v2h-1zM205 425h1v2h-1zM211 425h1v2h-1zM217 423h1v4h-1zM223 425h1v2h-1zM229 425h1v2h-1zM234 425h1v2h-1zM240 423h1v4h-1zM246 425h1v2h-1zM252 425h1v2h-1zM258 425h1v2h-1zM264 423h1v4h-1zM270 425h1v2h-1zM276 425h1v2h-1zM281 425h1v2h-1zM287 423h1v4h-1zM293 425h1v2h-1zM299 425h1v2h-1zM305 425h1v2h-1zM311 423h1v4h-1zM317 425h1v2h-1zM323 425h1v2h-1zM329 425h1v2h-1zM334 423h1v4h-1zM340 425h1v2h-1zM346 425h1v2h-1zM352 425h1v2h-1zM358 423h1v4h-1zM364 425h1v2h-1zM370 425h1v2h-1zM376 425h1v2h-1zM382 423h1v4h-1zM387 425h1v2h-1zM393 425h1v2h-1zM399 425h1v2h-1zM405 423h1v4h-1zM411 425h1v2h-1zM417 425h1v2h-1zM423 425h1v2h-1zM429 423h1v4h-1zM435 425h1v2h-1zM440 425h1v2h-1zM446 425h1v2h-1zM452 423h1v4h-1zM458 425h1v2h-1zM464 425h1v2h-1zM470 425h1v2h-1zM476 423h1v4h-1zM482 425h1v2h-1zM488 425h1v2h-1zM493 425h1v2h-1zM499 423h1v4h-1zM505 425h1v2h-1zM511 425h1v2h-1zM517 425h1v2h-1zM523 423h1v4h-1zM529 425h1v2h-1zM535 425h1v2h-1zM540 425h1v2h-1zM546 423h1v4h-1zM552 425h1v2h-1zM558 425h1v2h-1zM564 425h1v2h-1zM570 423h1v4h-1zM576 425h1v2h-1zM582 425h1v2h-1zM588 425h1v2h-1zM593 423h1v4h-1zM599 425h1v2h-1zM605 425h1v2h-1zM611 425h1v2h-1z"/><rect x="100" y="112" width="8" height="21" fill="#ff0000"/><rect x="123" y="153" width="1" height="21" fill="#ff0000"/><rect x="114" y="132" width="19" height="21" fill="#ff0000"/><rect x="193" y="132" width="1" height="62" fill="#00ff00"/><rect x="185" y="152" width="17" height="1" fill="#00ff00"/><rect x="185" y="153" width="16" height="1" fill="#00ff00"/><rect x="217" y="132" width="1" height="20" fill="#ff0000"/><rect x="209" y="152" width="17" height="62" fill="#ff0000"/><rect x="240" y="173" width="1" height="20" fill="#ff0000"/><rect x="232" y="193" width="17" height="42" fill="#ff0000"/><rect x="264" y="254" width="1" height="40" fill="#00ff00"/><rect x="256" y="294" width="17" height="22" fill="#00ff00"/><rect x="279" y="294" width="19" height="22" fill="#ff0000"/><rect x="358" y="294" width="1" height="21" fill="#00ff00"/><rect x="350" y="315" width="17" height="1" fill="#00ff00"/><rect x="350" y="316" width="16" height="1" fill="#00ff00"/><rect x="382" y="294" width="1" height="21" fill="#00ff00"/><rect x="373" y="315" width="19" height="1" fill="#00ff00"/><rect x="373" y="316" width="18" height="1" fill="#00ff00"/><rect x="405" y="294" width="1" height="21" fill="#00ff00"/><rect x="397" y="315" width="17" height="1" fill="#00ff00"/><rect x="397" y="316" width="16" height="1" fill="#00ff00"/><rect x="429" y="294" width="1" height="21" fill="#00ff00"/><rect x="420" y="315" width="19" height="1" fill="#00ff00"/><rect x="420" y="316" width="18" height="1" fill="#00ff00"/><rect x="547" y="294" width="1" height="21" fill="#00ff00"/><rect x="538" y="315" width="19" height="1" fill="#00ff00"/><rect x="538" y="316" width="18" height="1" fill="#00ff00"/><rect x="562" y="294" width="17" height="22" fill="#00ff00"/><rect x="594" y="254" width="1" height="62" fill="#00ff00"/><rect x="585" y="301" width="19" height="5" fill="#00ff00"/><rect x="123" y="418" width="1" height="9" fill="#ff0000"/><rect x="193" y="423" width="1" height="4" fill="#00ff00"/><rect x="217" y="403" width="1" height="24" fill="#ff0000"/><rect x="240" y="373" width="1" height="54" fill="#ff0000"/><rect x="264" y="385" width="1" height="42" fill="#00ff00"/><rect x="287" y="397" width="1" height="30" fill="#ff0000"/><rect x="358" y="394" width="1" height="33" fill="#00ff00"/><rect x="382" y="418" width="1" height="9" fill="#00ff00"/><rect x="405" y="416" width="1" height="11" fill="#00ff00"/><rect x="429" y="393" width="1" height="34" fill="#00ff00"/><rect x="546" y="394" width="1" height="33" fill="#00ff00"/><rect x="570" y="399" width="1" height="28" fill="#00ff00"/><rect x="593" y="343" width="1" height="84" fill="#00ff00"/><path fill="#82aad8" d="M99 51h519v1h-519zM99 335h519v1h-519zM99 427h519v1h-519zM99 51h1v377h-1zM617 51h1v377h-1z"/>
<g font-family="'DejaVu Sans', 'Liberation Sans', sans-serif" font-size="16.667px" fill="#82aad8" text-rendering="geometricPrecision">
<text x="88.5" y="97" text-anchor="end" letter-spacing="-0.12">0.024</text><text x="88.5" y="157" text-anchor="end" letter-spacing="-0.12">0.021</text><text x="88.5" y="218" text-anchor="end" letter-spacing="-0.12">0.018</text><text x="88.5" y="279" text-anchor="end" letter-spacing="-0.12">0.015</text><text x="87.3" y="432" text-anchor="end" letter-spacing="-0.5">0</text><text x="87.3" y="422" text-anchor="end" letter-spacing="-0.5">20000</text><text x="87.3" y="412" text-anchor="end" letter-spacing="-0.5">40000</text><text x="87.3" y="401" text-anchor="end" letter-spacing="-0.5">60000</text><text x="87.3" y="391" text-anchor="end" letter-spacing="-0.5">80000</text><text x="87.3" y="381" text-anchor="end" letter-spacing="-0.5">100000</text><text x="87.3" y="371" text-anchor="end" letter-spacing="-0.5">120000</text><text x="87.3" y="360" text-anchor="end" letter-spacing="-0.5">140000</text><text x="87.3" y="350" text-anchor="end" letter-spacing="-0.5">160000</text><text x="87.3" y="340" text-anchor="end" letter-spacing="-0.5">180000</text><text transform="translate(93.1 432.25) rotate(-45)" text-anchor="end" dy="0.78em" letter-spacing="-0.3">1<tspan dx="-1.3">9</tspan></text><text transform="translate(117.1 432.25) rotate(-45)" text-anchor="end" dy="0.78em" letter-spacing="-0.3">20</text><text transform="translate(140.1 432.25) rotate(-45)" text-anchor="end" dy="0.78em" letter-spacing="-0.3">21</text><text transform="translate(164.1 432.25) rotate(-45)" text-anchor="end" dy="0.78em" letter-spacing="-0.3">22</text><text transform="translate(187.1 432.25) rotate(-45)" text-anchor="end" dy="0.78em" letter-spacing="-0.3">23</text><text transform="translate(211.1 432.25) rotate(-45)" text-anchor="end" dy="0.78em" letter-spacing="-0.3">24</text><text transform="translate(234.1 432.25) rotate(-45)" text-anchor="end" dy="0.78em" letter-spacing="-0.3">25</text><text transform="translate(258.1 432.25) rotate(-45)" text-anchor="end" dy="0.78em" letter-spacing="-0.3">26</text><text transform="translate(281.1 432.25) rotate(-45)" text-anchor="end" dy="0.78em" letter-spacing="-0.3">27</text><text transform="translate(305.1 432.25) rotate(-45)" text-anchor="end" dy="0.78em" letter-spacing="-0.3">28</text><text transform="translate(328.1 432.25) rotate(-45)" text-anchor="end" dy="0.78em" letter-spacing="-0.3">29</text><text transform="translate(352.1 432.25) rotate(-45)" text-anchor="end" dy="0.78em" letter-spacing="-0.3">30</text><text transform="translate(376.1 432.25) rotate(-45)" text-anchor="end" dy="0.78em" letter-spacing="-0.3">31</text><text transform="translate(399.1 432.25) rotate(-45)" text-anchor="end" dy="0.78em" letter-spacing="-0.3">01</text><text transform="translate(423.1 432.25) rotate(-45)" text-anchor="end" dy="0.78em" letter-spacing="-0.3">02</text><text transform="translate(446.1 432.25) rotate(-45)" text-anchor="end" dy="0.78em" letter-spacing="-0.3">03</text><text transform="translate(470.1 432.25) rotate(-45)" text-anchor="end" dy="0.78em" letter-spacing="-0.3">04</text><text transform="translate(493.1 432.25) rotate(-45)" text-anchor="end" dy="0.78em" letter-spacing="-0.3">05</text><text transform="translate(517.1 432.25) rotate(-45)" text-anchor="end" dy="0.78em" letter-spacing="-0.3">06</text><text transform="translate(540.1 432.25) rotate(-45)" text-anchor="end" dy="0.78em" letter-spacing="-0.3">07</text><text transform="translate(564.1 432.25) rotate(-45)" text-anchor="end" dy="0.78em" letter-spacing="-0.3">08</text><text transform="translate(587.1 432.25) rotate(-45)" text-anchor="end" dy="0.78em" letter-spacing="-0.3">09</text><text transform="translate(611.1 432.25) rotate(-45)" text-anchor="end" dy="0.78em" letter-spacing="-0.3">1<tspan dx="-1.3">0</tspan></text><text transform="translate(20 191.5) rotate(-90)" text-anchor="middle">Price</text><text transform="translate(10.6 381.8) rotate(-90)" text-anchor="middle" letter-spacing="-0.12">Volume (0000)</text>
</g>
<text x="222.56 231.61 242.56 253.56 267.94 272.89 278.90 285.53 289.85 299.60 307.55 314.09 319.68 330.24 341.18 351.00 359.85 367.18 376.58 387.16 391.65 402.35 412.7 419.70 429.29 439.9 446.58 457.60 467.48 477.84" y="31" font-family="'DejaVu Sans', 'Liberation Sans', sans-serif" font-size="16.667px" fill="#ffff00">PREM - last updated 09/04/2026</text>
<text x="348" y="472" text-anchor="middle" font-family="'DejaVu Sans', 'Liberation Sans', sans-serif" font-size="16.667px" fill="#000000">Day</text>
</svg>
</div></body></html>
